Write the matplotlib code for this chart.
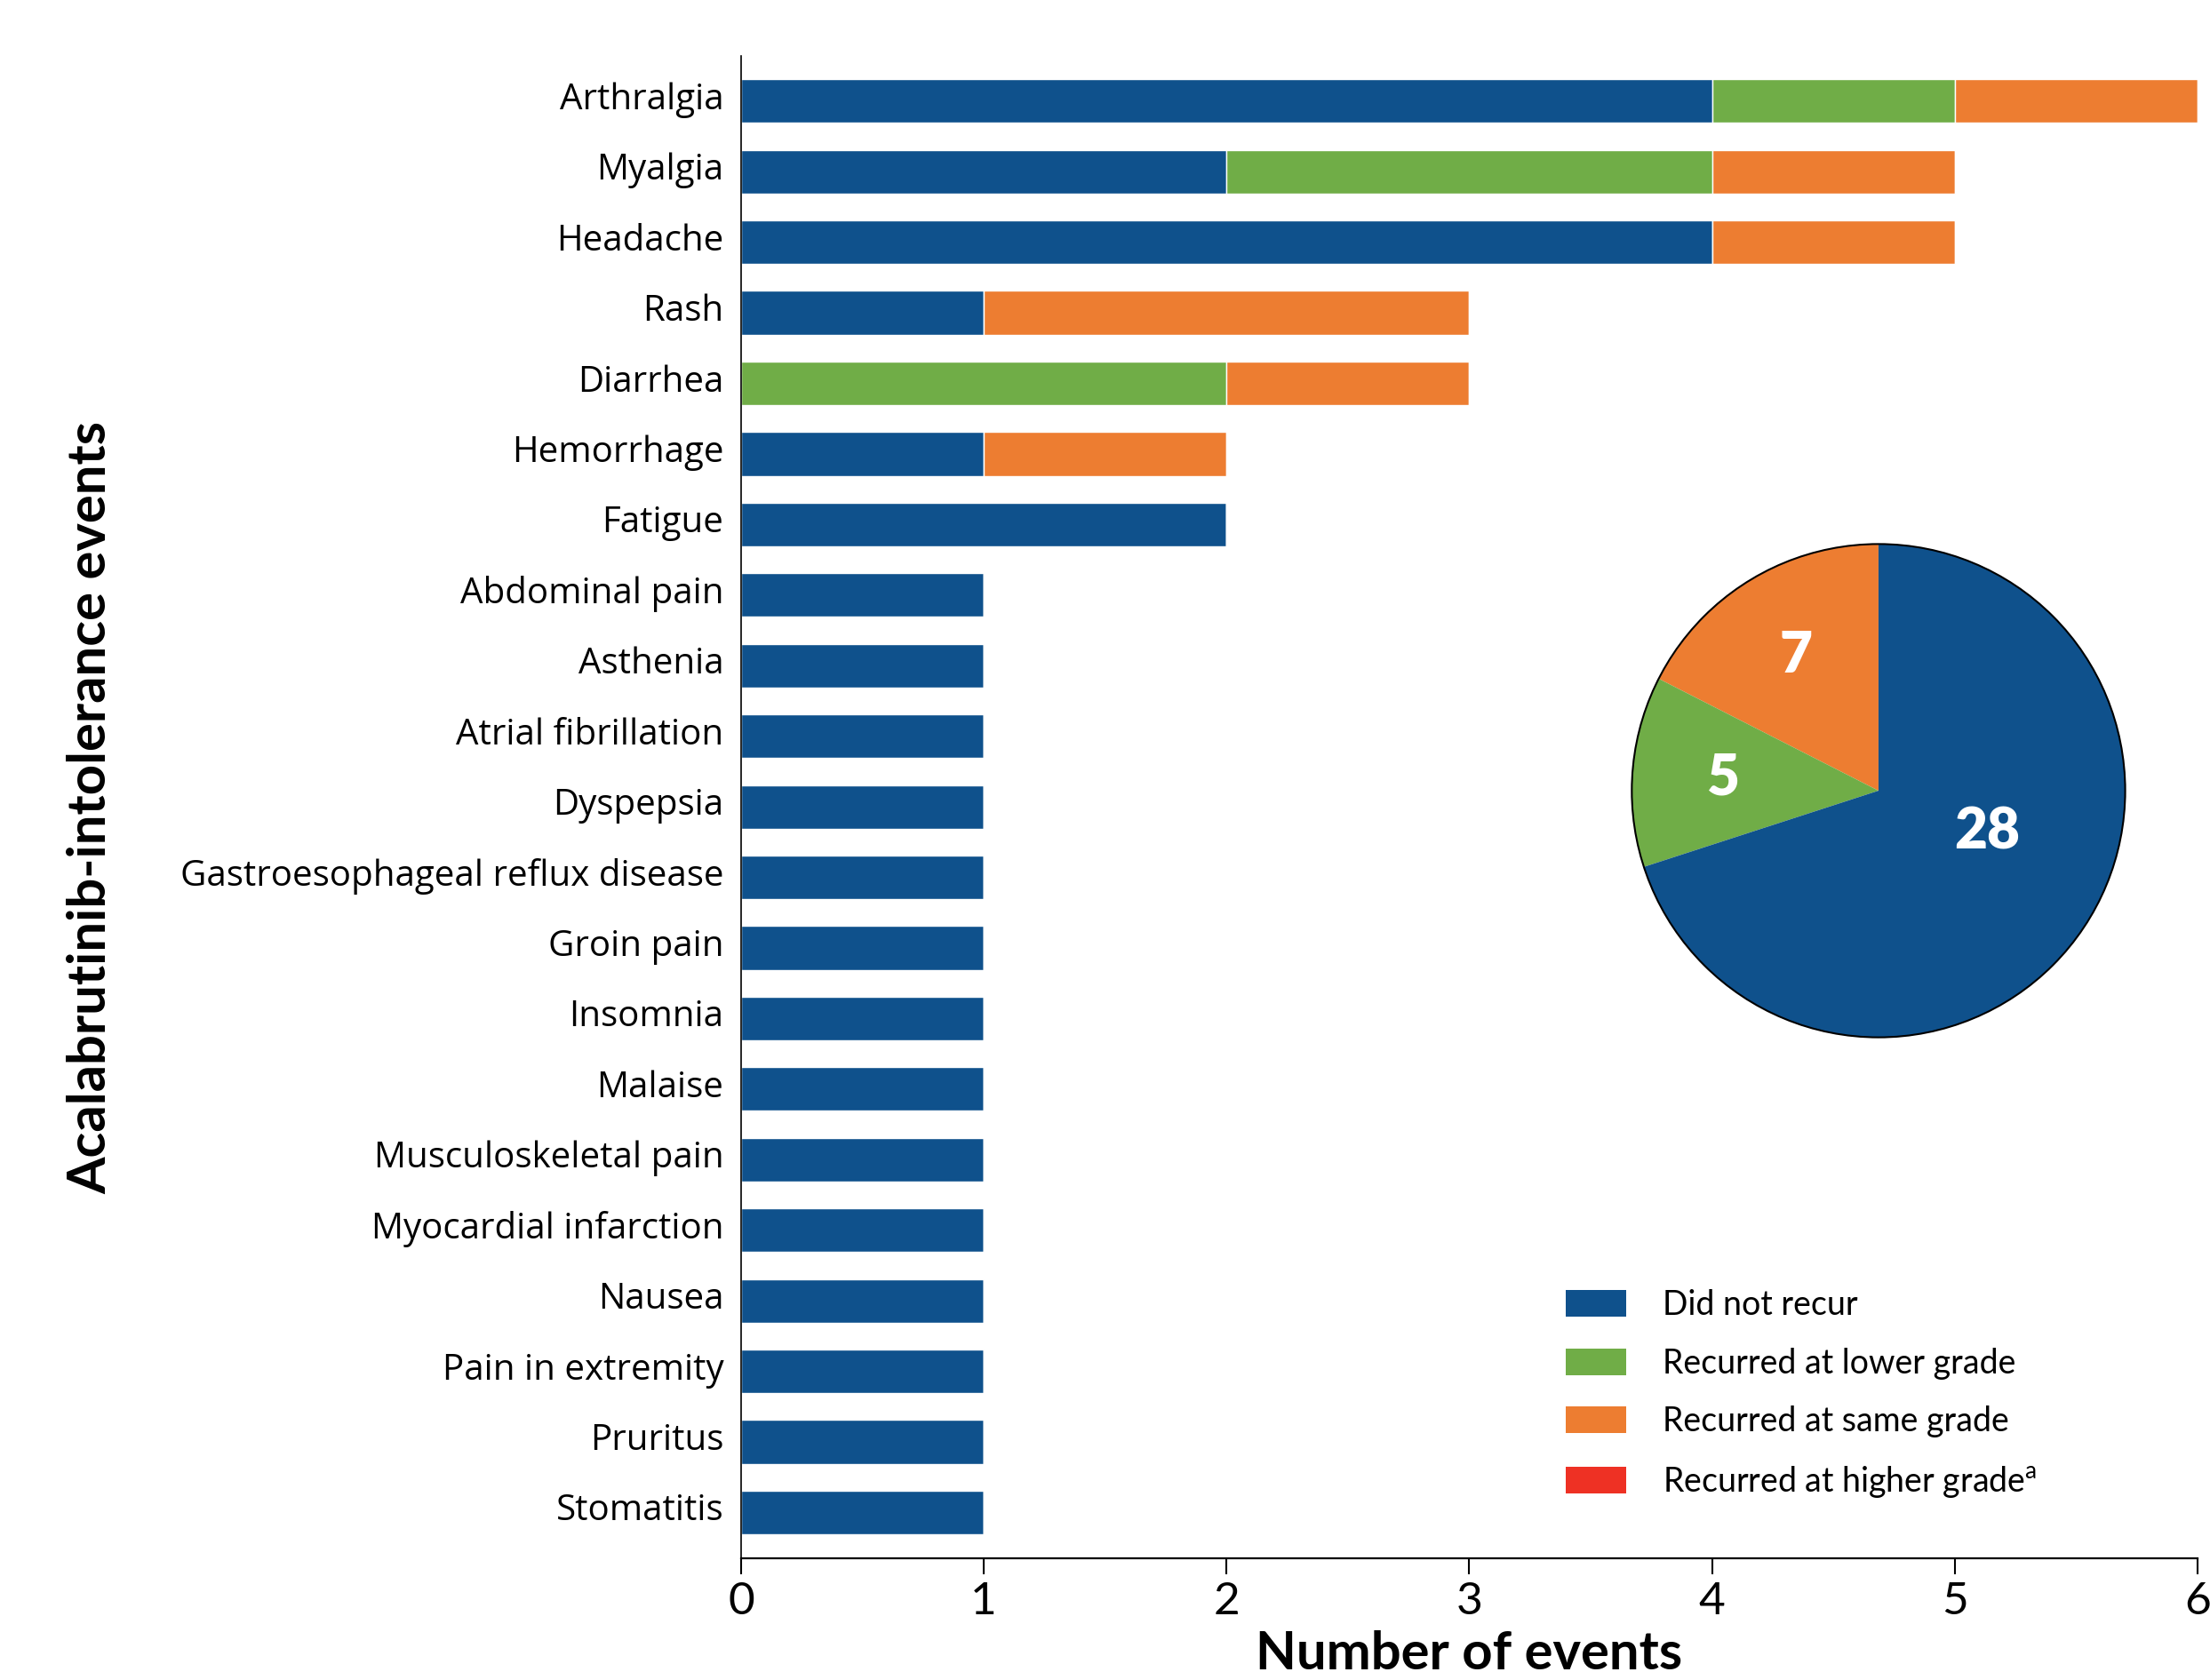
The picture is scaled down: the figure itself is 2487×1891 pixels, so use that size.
import numpy as np
import matplotlib.pyplot as plt
import matplotlib.transforms as mtransforms
from matplotlib.patches import Patch, Circle

plt.rcParams['font.family'] = ['Lato', 'DejaVu Sans']

# Data
events = ['Arthralgia', 'Myalgia', 'Headache', 'Rash', 'Diarrhea', 'Hemorrhage',
          'Fatigue', 'Abdominal pain', 'Asthenia', 'Atrial fibrillation', 'Dyspepsia',
          'Gastroesophageal reflux disease', 'Groin pain', 'Insomnia', 'Malaise',
          'Musculoskeletal pain', 'Myocardial infarction', 'Nausea', 'Pain in extremity',
          'Pruritus', 'Stomatitis']
did_not_recur = [4, 2, 4, 1, 0, 1, 2, 1, 1, 1, 1, 1, 1, 1, 1, 1, 1, 1, 1, 1, 1]
lower_grade = [1, 2, 0, 0, 2, 0, 0, 0, 0, 0, 0, 0, 0, 0, 0, 0, 0, 0, 0, 0, 0]
same_grade = [1, 1, 1, 2, 1, 1, 0, 0, 0, 0, 0, 0, 0, 0, 0, 0, 0, 0, 0, 0, 0]
higher_grade = [0] * 21

pie_labels = ['7', '5', '28']
pie_values = [7, 5, 28]

series_names = ['Did not recur', 'Recurred at lower grade', 'Recurred at same grade',
                'Recurred at higher grade$^\\mathregular{a}$']
colors = ['#0F518C', '#70AD47', '#ED7D31', '#EE3124']

fig = plt.figure(figsize=(24.87, 18.91), dpi=100)
ax = fig.add_axes([0.3353, 0.0724, 0.6591, 0.8943])

y = np.arange(len(events))
left = np.zeros(len(events))
for vals, c in zip([did_not_recur, lower_grade, same_grade, higher_grade], colors):
    vals = np.array(vals, dtype=float)
    ax.barh(y, vals, left=left, height=0.62, color=c, edgecolor='white', linewidth=1.0)
    left += vals

ax.set_xlim(0, 6)
ax.set_ylim(len(events) - 1 + 0.65, -0.64)
ax.set_yticks(y)
ax.set_yticklabels(events, fontsize=29, family=['Open Sans', 'DejaVu Sans'])
ax.tick_params(axis='y', length=0, pad=14)
shift = mtransforms.ScaledTranslation(0, 4.5 / 72, fig.dpi_scale_trans)
for lab in ax.get_yticklabels():
    lab.set_transform(lab.get_transform() + shift)
ax.set_xticks(range(7))
ax.tick_params(axis='x', labelsize=37, length=13, width=1.5, pad=6, direction='out')
for s in ['top', 'right']:
    ax.spines[s].set_visible(False)
ax.spines['bottom'].set_linewidth(1.6)
ax.spines['left'].set_linewidth(1.2)

ax.set_xlabel('Number of events', fontsize=43, fontweight='bold', labelpad=6)
ax.set_ylabel('Acalabrutinib-intolerance events', fontsize=43, fontweight='bold')
ax.yaxis.set_label_coords(-0.43, 0.5)

# Pie inset
pax = fig.add_axes([0.7378, 0.3818, 0.2244, 0.2951])
wedges, texts = pax.pie(pie_values, colors=[colors[2], colors[1], colors[0]],
                        startangle=90, counterclock=True,
                        wedgeprops=dict(linewidth=0))
radii = [0.64, 0.63, 0.5]
for w, lab, r in zip(wedges, pie_labels, radii):
    ang = np.deg2rad((w.theta1 + w.theta2) / 2)
    xx, yy = r * np.cos(ang), r * np.sin(ang)
    if lab == '28':
        xx, yy = 0.44, -0.17
    pax.text(xx, yy, lab, color='white', fontsize=46, fontweight='heavy',
             ha='center', va='center')
pax.add_patch(Circle((0, 0), 1, fill=False, edgecolor='black', linewidth=1.5))
pax.set_xlim(-1.005, 1.005)
pax.set_ylim(-1.005, 1.005)
pax.set_aspect('equal')
pax.axis('off')

# Legend
handles = [Patch(facecolor=c, edgecolor='none') for c in colors]
fig.legend(handles, series_names, loc='upper left', bbox_to_anchor=(0.7085, 0.2327),
           frameon=False, fontsize=27, handlelength=1.8, handleheight=0.85,
           handletextpad=1.1, labelspacing=0.79, borderpad=0, borderaxespad=0)

plt.savefig('out.png', dpi=100)
